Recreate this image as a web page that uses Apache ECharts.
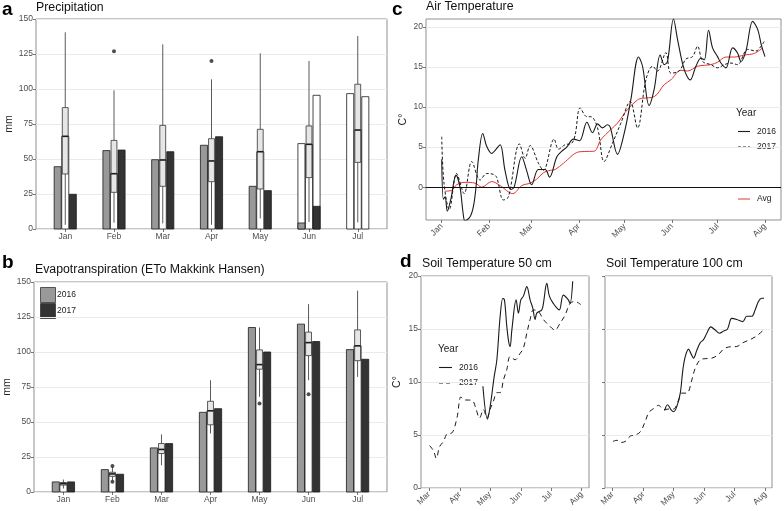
<!DOCTYPE html>
<html>
<head>
<meta charset="utf-8">
<script src="https://cdn.jsdelivr.net/npm/echarts@6/dist/echarts.min.js"></script>
<style>html,body{margin:0;padding:0;background:#fff}#chart{width:784px;height:511px}</style>
</head>
<body>
<div id="chart"></div>
<script>
// ---------- data ----------
const months = ['Jan','Feb','Mar','Apr','May','Jun','Jul'];
// Precipitation (mm)
const precip2016 = [44.5, 56, 49.5, 59.8, 30.5, 4.3, null];
const precip2017 = [24.8, 56.4, 55.2, 65.9, 27.4, 16.2, null];
const precipOpen2016 = [null, null, null, null, null, 61, 96.7];
const precipOpen2017 = [null, null, null, null, null, 95.5, 94.5];
// [whiskerLow, q1, median, q3, whiskerHigh]
const precipBox = [
  [3, 39.3, 66.2, 86.7, 140.5],
  [4.5, 26.2, 39.5, 63.3, 99],
  [4, 30.5, 49.3, 74, 131.9],
  [3, 33.8, 48.6, 64.5, 106.9],
  [7.6, 28.6, 55.2, 71.2, 125.5],
  [5, 36.7, 60.5, 73.6, 120],
  [4.8, 47.6, 70.7, 103.4, 137.9]
];
const precipOutliers = [[2, 127], [4, 120]];
// Evapotranspiration (mm)
const et2016 = [7.2, 16, 31.5, 56.9, 117.5, 119.9, 101.7];
const et2017 = [7.2, 12.7, 34.6, 59.5, 100, 107.5, 94.8];
const etBox = [
  [2.5, 4.9, 6, 6.8, 8.9],
  [8.4, 11.2, 12.9, 14.1, 17.9],
  [19.1, 27.5, 30.4, 34.6, 41.1],
  [41.8, 48, 58, 64.8, 79.8],
  [68, 87.7, 91, 101.5, 117.5],
  [79.8, 97.4, 106.7, 114.2, 134.2],
  [82.2, 93.8, 104.4, 115.8, 143.8]
];
const etOutliers = [[2, 18.6], [2, 7.4], [5, 63.3], [6, 69.8]];

// Air temperature: [day since 1 Jan, °C]
const airTickDays = [0, 31, 59, 90, 120, 151, 181, 212];
const airTickLabels = ['Jan','Feb','Mar','Apr','May','Jun','Jul','Aug'];
const airTicksY = [0, 5, 10, 15, 20];
const air2016 = [[0,3.5],[1.1,-1.5],[2.2,-1.2],[3.7,-3.0],[6,-1.5],[9.4,1.5],[12,0],[14,-3.2],[15.3,-4.2],[18.6,-3.7],[20.8,-2.4],[22.5,0],[24,3.4],[26.9,6.7],[29.5,5.1],[32.8,4.2],[35,4.6],[38.3,5.3],[41.6,2],[45.3,-0.3],[47.5,0],[52.5,3.8],[55.8,2],[59,0.3],[63.4,2.2],[67.8,2.2],[70.7,1.25],[75.5,3.8],[78.8,4.5],[82,5],[86.4,6],[90.4,5.8],[95.2,8.1],[98.9,6.8],[102.2,7.9],[105.4,7.4],[108.7,7.8],[110.5,7.5],[115.3,4.1],[119.7,6.75],[124,10.9],[129.1,16.25],[131.7,15.1],[136,10.2],[139.3,12.2],[143.3,16.5],[145.9,15.3],[148.1,15.7],[152,21],[154.7,18.4],[159,14.7],[163,13.4],[166.7,15.1],[170,16.1],[172.2,15.9],[175,19.6],[177.6,17.4],[180.9,16.3],[183.1,15.5],[186.4,14.9],[190.8,17.4],[194,16.75],[196.2,15.7],[199.5,17],[203.9,20.7],[207.2,19.7],[209.8,17.6],[212,16.3]];
const air2017 = [[0,6.3],[1.5,0.5],[5,-2.8],[9.8,1.7],[14.7,-0.8],[19.7,3.2],[25.2,0.9],[29.5,1.7],[33.9,1.6],[36.1,1.2],[40.5,-1.6],[43.8,-1.2],[51,5.4],[54.7,3.6],[58,5.2],[63.4,3],[66.7,2.1],[73.7,6],[76.6,4.75],[80.9,5.3],[85.3,5.5],[87.5,6.5],[90.8,9.9],[95.2,8.8],[97.8,8.8],[102.2,7.4],[106.5,3.2],[112,5.5],[117.5,8],[123.6,10.7],[128.4,7.4],[133.9,13.4],[138.3,15.1],[141.5,14.5],[147,16.8],[150.3,14.25],[155.8,14.5],[160.1,16],[164.5,16.3],[167.8,17.6],[171.1,15.7],[176.5,15.3],[180.9,14.9],[185.3,15.3],[189.7,15.5],[194,15.3],[200.6,17.2],[206.1,17],[209.4,17.6],[211.5,18.2]];
const airAvg = [[2.2,-0.5],[6.6,-0.4],[9.8,0.3],[15.3,0.6],[21.9,0.5],[26.3,0],[32.8,0.7],[38.3,0.2],[46.6,-0.8],[52.5,0.2],[58,0.5],[62.3,1],[66.7,1.8],[71.1,2.1],[74.4,2.2],[79.9,3],[89.7,4.4],[93.4,4.45],[100,4.5],[104.3,5.9],[110.9,7.2],[115.3,8],[121.8,9.7],[128.4,10.9],[131.7,11.1],[139.3,11.3],[145.9,12.8],[150.3,13.4],[156.8,14.6],[161.2,14.5],[167.8,15.1],[176.5,15.3],[180.9,15.6],[186.4,16.25],[191.9,16.25],[198.4,16.5],[205,16.7],[210.5,17.4]];

// Soil temperature: [day since 1 Mar, °C]
const soilTickDays = [0, 31, 61, 92, 122, 153];
const soilTickLabels = ['Mar','Apr','May','Jun','Jul','Aug'];
const soil50_2016 = [[54,9.6],[58.6,6.5],[61.3,7.7],[65.3,10.5],[68,12.1],[71.3,16.2],[74,17.9],[75.6,17.75],[78,15.2],[80,13.7],[81.3,13.35],[83,14.9],[87.3,17.75],[89.6,16.5],[92,17.75],[94.6,18.1],[98,19],[101.3,17.75],[104,16.96],[106.3,15.9],[108,16.5],[113,16.8],[114.6,17.4],[118,19.3],[120.6,18.1],[124.6,17.4],[128,17],[130.6,16.8],[134.6,18.2],[139.6,17.75],[141.3,17.4],[144,19.5]];
const soil50_2017 = [[0.6,4],[4.6,3.5],[7.3,2.8],[10.6,3.9],[14.6,4.4],[18,5.1],[23,5.2],[28,6.6],[32,8.6],[35.3,8.3],[39.6,8.3],[44,8.2],[47.3,7.4],[50.6,6.6],[54.6,7.4],[58,6.6],[61.3,7.45],[64.6,8.2],[68,9],[71.3,9],[74.6,10.2],[78,11.2],[81.3,12.4],[86.3,12.1],[91.3,12.7],[94.6,13.2],[98,14.6],[101.3,15.9],[104.6,16.8],[109.6,16.65],[114.6,15.9],[119.6,15.4],[126.3,14.9],[131.3,15.55],[136.3,16.3],[141.3,17.4],[146.3,17.6],[152,17.3]];
const soil100_2016 = [[52,7.3],[55,7.85],[58.3,7.4],[61,7.2],[64.3,7.7],[67.7,8.95],[70.3,11.15],[72.7,12.4],[76,13.1],[78.3,12.7],[81,12.25],[84.3,13],[87.7,13.7],[91,14],[94.3,14.6],[98.3,15.2],[102.7,14.9],[107,14.6],[111,14.8],[115,15],[119.3,16],[124.3,15.9],[130.3,15.7],[134.3,16.2],[139.3,16.2],[142.7,16.8],[146,17.6],[149.3,17.9],[151.7,17.9]];
const soil100_2017 = [[0.3,4.4],[4.3,4.5],[8.3,4.3],[12.7,4.4],[17.7,4.9],[22.7,5],[27.7,5.3],[32.7,6.3],[36,7.1],[41,7.5],[46,7.8],[51,7.4],[57,7.45],[61,7.45],[66,8.3],[69.3,8.95],[74.3,8.95],[79.3,10.2],[82.7,11.3],[87.7,12.1],[92.7,12.2],[99.3,12.25],[106,12.6],[111,13.1],[116,13.3],[124.3,13.35],[130.3,13.7],[137.7,14],[144.3,14.35],[151,14.9]];

// ---------- helpers ----------
const FONT = 'Liberation Sans, Arial, Helvetica, sans-serif';
const C2016 = '#999999', C2017 = '#333333';
const BAR_W = 0.145, BOX_W = 0.12, OFF = 0.155;
const monthIdx = months.map((m, i) => i + 1);
const toXY = arr => arr.map((v, i) => [i + 1, v]).filter(d => d[1] != null);

function barSeries(name, vals, offset, fill, axis) {
  return {
    type: 'custom', name, xAxisIndex: axis, yAxisIndex: axis,
    data: toXY(vals), encode: {x: 0, y: 1}, silent: true,
    renderItem: (p, api) => {
      const x = api.value(0), y = api.value(1);
      const a = api.coord([x + offset - BAR_W / 2, 0]);
      const b = api.coord([x + offset + BAR_W / 2, y]);
      return {type: 'rect', shape: {x: a[0], y: b[1], width: b[0] - a[0], height: a[1] - b[1]},
        style: {fill, stroke: '#1a1a1a', lineWidth: 0.8}};
    }
  };
}
function boxSeries(name, boxes, axis) {
  return {
    type: 'custom', name, xAxisIndex: axis, yAxisIndex: axis, silent: true,
    data: boxes.map((b, i) => [i + 1].concat(b)), encode: {x: 0, y: [1, 5]},
    renderItem: (p, api) => {
      const x = api.value(0), lo = api.value(1), q1 = api.value(2), md = api.value(3), q3 = api.value(4), hi = api.value(5);
      const h = BOX_W / 2;
      const cLo = api.coord([x, lo]), cQ1 = api.coord([x, q1]), cQ3 = api.coord([x, q3]), cHi = api.coord([x, hi]);
      const tl = api.coord([x - h, q3]), br = api.coord([x + h, q1]);
      const m1 = api.coord([x - h, md]), m2 = api.coord([x + h, md]);
      return {type: 'group', children: [
        {type: 'line', shape: {x1: cLo[0], y1: cLo[1], x2: cQ1[0], y2: cQ1[1]}, style: {stroke: '#5a5a5a', lineWidth: 1}},
        {type: 'line', shape: {x1: cQ3[0], y1: cQ3[1], x2: cHi[0], y2: cHi[1]}, style: {stroke: '#5a5a5a', lineWidth: 1}},
        {type: 'rect', shape: {x: tl[0], y: tl[1], width: br[0] - tl[0], height: br[1] - tl[1]}, style: {fill: '#e6e6e6', stroke: '#333', lineWidth: 0.8}},
        {type: 'line', shape: {x1: m1[0], y1: m1[1], x2: m2[0], y2: m2[1]}, style: {stroke: '#1a1a1a', lineWidth: 1.6}}
      ]};
    }
  };
}
function outlierSeries(data, axis) {
  return {type: 'scatter', xAxisIndex: axis, yAxisIndex: axis, data, symbolSize: 4, silent: true,
    itemStyle: {color: '#222'}};
}
function lineSeries(name, data, axis, color, type, width) {
  return {type: 'line', name, xAxisIndex: axis, yAxisIndex: axis, data, showSymbol: false, smooth: 0.35,
    silent: true, lineStyle: {color, width: width || 1.1, type: type || 'solid'}};
}

const gridBase = {show: true, borderColor: '#8f8f8f', borderWidth: 1, backgroundColor: '#fff', containLabel: false};
const tickStyle = {show: true, length: 3, lineStyle: {color: '#555', width: 0.8}};
const labelStyle = {color: '#4d4d4d', fontSize: 8.5, fontFamily: FONT, margin: 3};
const noLine = {show: false, onZero: false};

function monthX(grid) {
  return {type: 'value', gridIndex: grid, min: 0.4, max: 7.6,
    axisLine: noLine, splitLine: {show: false},
    axisTick: Object.assign({customValues: monthIdx}, tickStyle),
    axisLabel: Object.assign({customValues: monthIdx, formatter: v => months[Math.round(v) - 1]}, labelStyle)};
}
function dateX(grid, min, max, ticks, labels) {
  return {type: 'value', gridIndex: grid, min, max,
    axisLine: noLine, splitLine: {show: false},
    axisTick: Object.assign({customValues: ticks}, tickStyle),
    axisLabel: Object.assign({}, labelStyle, {customValues: ticks, rotate: 45, margin: 5,
      formatter: v => labels[ticks.indexOf(v)]})};
}
function valY(grid, min, max, interval, name, gap, showLabel, ticks) {
  const y = {type: 'value', gridIndex: grid, min, max,
    axisLine: noLine,
    splitLine: {show: true, lineStyle: {color: '#ebebeb', width: 1}},
    axisTick: Object.assign({}, tickStyle),
    axisLabel: Object.assign({show: showLabel !== false}, labelStyle),
    name, nameLocation: 'middle', nameGap: gap, nameRotate: 90,
    nameTextStyle: {fontSize: 10.5, color: '#222', fontFamily: FONT}};
  if (interval) y.interval = interval;
  if (ticks) { y.axisTick.customValues = ticks; y.axisLabel.customValues = ticks; }
  return y;
}

const TF = '12.3px ' + FONT;
const option = {
  animation: false,
  backgroundColor: '#fff',
  textStyle: {fontFamily: FONT},
  grid: [
    Object.assign({left: 36, top: 19, width: 351, height: 210}, gridBase),
    Object.assign({left: 34, top: 282, width: 353, height: 210}, gridBase),
    Object.assign({left: 426, top: 19, width: 355, height: 201}, gridBase),
    Object.assign({left: 421, top: 276, width: 168, height: 212}, gridBase),
    Object.assign({left: 605, top: 276, width: 167, height: 212}, gridBase)
  ],
  xAxis: [
    monthX(0), monthX(1),
    dateX(2, -10.3, 222.5, airTickDays, airTickLabels),
    dateX(3, -8, 160.3, soilTickDays, soilTickLabels),
    dateX(4, -7.7, 159.6, soilTickDays, soilTickLabels)
  ],
  yAxis: [
    valY(0, 0, 150, 25, 'mm', 19),
    valY(1, 0, 150, 25, 'mm', 17),
    valY(2, -4.1, 21, null, 'C°', 17, true, airTicksY),
    valY(3, 0, 20, 5, 'C°', 18),
    valY(4, 0, 20, 5, '', 0, false)
  ],
  series: [
    // panel a
    barSeries('open2016', precipOpen2016, -OFF, '#ffffff', 0),
    barSeries('open2017', precipOpen2017, OFF, '#ffffff', 0),
    barSeries('2016', precip2016, -OFF, C2016, 0),
    barSeries('2017', precip2017, OFF, C2017, 0),
    barSeries('mean', precipBox.map(b => b[2]), 0, '#ffffff', 0),
    boxSeries('box', precipBox, 0),
    outlierSeries(precipOutliers, 0),
    // panel b
    barSeries('2016', et2016, -OFF, C2016, 1),
    barSeries('2017', et2017, OFF, C2017, 1),
    barSeries('mean', etBox.map(b => b[2]), 0, '#ffffff', 1),
    boxSeries('box', etBox, 1),
    outlierSeries(etOutliers, 1),
    // panel c
    Object.assign(lineSeries('Avg', airAvg, 2, '#e3342f', 'solid', 1), {
      markLine: {silent: true, symbol: 'none', label: {show: false},
        lineStyle: {color: '#111', type: 'solid', width: 1}, data: [{yAxis: 0}]}}),
    lineSeries('2017', air2017, 2, '#1a1a1a', [3, 2], 1),
    lineSeries('2016', air2016, 2, '#1a1a1a', 'solid', 1.1),
    // panel d
    lineSeries('2017', soil50_2017, 3, '#1a1a1a', [5, 4], 1),
    lineSeries('2016', soil50_2016, 3, '#1a1a1a', 'solid', 1.1),
    lineSeries('2017', soil100_2017, 4, '#1a1a1a', [5, 4], 1),
    lineSeries('2016', soil100_2016, 4, '#1a1a1a', 'solid', 1.1)
  ],
  graphic: [
    // panel letters and titles
    {type: 'text', left: 2, top: 0, style: {text: 'a', font: 'bold 19px ' + FONT, fill: '#000'}},
    {type: 'text', left: 36, top: 2, style: {text: 'Precipitation', font: TF, fill: '#111'}},
    {type: 'text', left: 2, top: 253, style: {text: 'b', font: 'bold 19px ' + FONT, fill: '#000'}},
    {type: 'text', left: 35, top: 264, style: {text: 'Evapotranspiration (ETo Makkink Hansen)', font: TF, fill: '#111'}},
    {type: 'text', left: 392, top: 0, style: {text: 'c', font: 'bold 19px ' + FONT, fill: '#000'}},
    {type: 'text', left: 426, top: 1, style: {text: 'Air Temperature', font: TF, fill: '#111'}},
    {type: 'text', left: 400, top: 252, style: {text: 'd', font: 'bold 19px ' + FONT, fill: '#000'}},
    {type: 'text', left: 422, top: 258, style: {text: 'Soil Temperature 50 cm', font: TF, fill: '#111'}},
    {type: 'text', left: 606, top: 258, style: {text: 'Soil Temperature 100 cm', font: TF, fill: '#111'}},
    // legend b
    {type: 'group', z: 100, children: [
      {type: 'rect', shape: {x: 35, y: 286, width: 21, height: 34}, style: {fill: '#fff'}},
      {type: 'rect', shape: {x: 40.5, y: 287.5, width: 15, height: 15}, style: {fill: C2016, stroke: '#333', lineWidth: 0.8}},
      {type: 'rect', shape: {x: 40.5, y: 303.5, width: 15, height: 15}, style: {fill: C2017, stroke: '#333', lineWidth: 0.8}},
      {type: 'text', x: 57, y: 295, style: {text: '2016', font: '8.5px ' + FONT, fill: '#222', verticalAlign: 'middle'}},
      {type: 'text', x: 57, y: 311, style: {text: '2017', font: '8.5px ' + FONT, fill: '#222', verticalAlign: 'middle'}}
    ]},
    // legend c
    {type: 'text', x: 736, y: 113, style: {text: 'Year', font: '10px ' + FONT, fill: '#222', verticalAlign: 'middle'}},
    {type: 'line', shape: {x1: 738, y1: 131.5, x2: 750, y2: 131.5}, style: {stroke: '#1a1a1a', lineWidth: 1.1}},
    {type: 'text', x: 757, y: 131.5, style: {text: '2016', font: '8.5px ' + FONT, fill: '#222', verticalAlign: 'middle'}},
    {type: 'line', shape: {x1: 738, y1: 147, x2: 750, y2: 147}, style: {stroke: '#1a1a1a', lineWidth: 1, lineDash: [3, 2]}},
    {type: 'text', x: 757, y: 147, style: {text: '2017', font: '8.5px ' + FONT, fill: '#222', verticalAlign: 'middle'}},
    {type: 'line', shape: {x1: 738, y1: 199, x2: 750, y2: 199}, style: {stroke: '#e3342f', lineWidth: 1}},
    {type: 'text', x: 757, y: 199, style: {text: 'Avg', font: '8.5px ' + FONT, fill: '#222', verticalAlign: 'middle'}},
    // legend d
    {type: 'text', x: 438, y: 349, style: {text: 'Year', font: '10px ' + FONT, fill: '#222', verticalAlign: 'middle'}},
    {type: 'line', shape: {x1: 439, y1: 367.5, x2: 452, y2: 367.5}, style: {stroke: '#1a1a1a', lineWidth: 1.1}},
    {type: 'text', x: 459, y: 367.5, style: {text: '2016', font: '8.5px ' + FONT, fill: '#222', verticalAlign: 'middle'}},
    {type: 'line', shape: {x1: 439, y1: 383, x2: 452, y2: 383}, style: {stroke: '#1a1a1a', lineWidth: 1, lineDash: [4, 3]}},
    {type: 'text', x: 459, y: 383, style: {text: '2017', font: '8.5px ' + FONT, fill: '#222', verticalAlign: 'middle'}}
  ]
};
const chart = echarts.init(document.getElementById('chart'), null, {renderer: 'canvas'});
chart.setOption(option);
</script>
</body>
</html>
